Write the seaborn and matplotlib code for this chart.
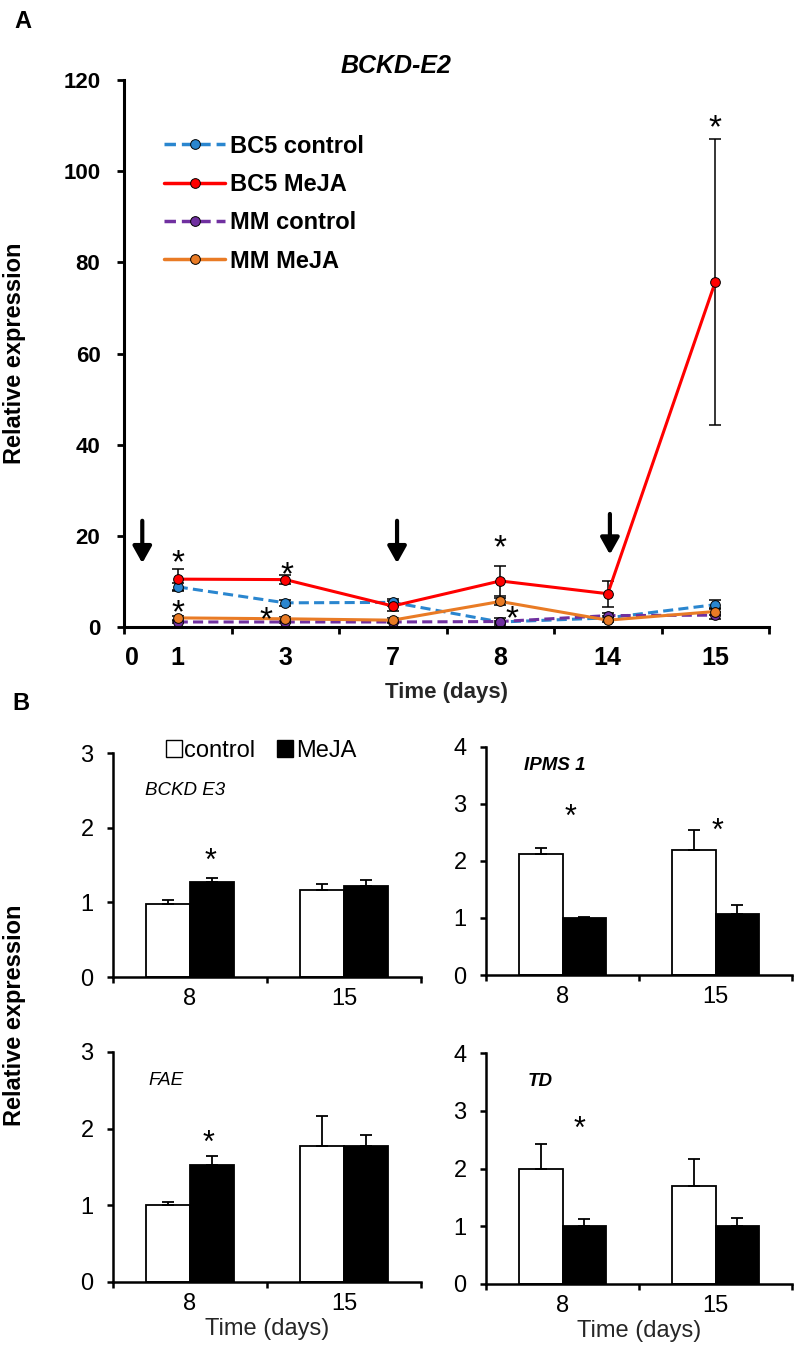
import numpy as np
import pandas as pd
import seaborn as sns
import matplotlib.pyplot as plt

# ---- panel A : BCKD-E2 time course
days_a = ['1', '3', '7', '8', '14', '15']
series_a = ['BC5 control', 'BC5 MeJA', 'MM control', 'MM MeJA']
bc5_control = [8.8, 5.3, 5.4, 1.1, 2.0, 4.9]
bc5_control_err = [0.8, 0.6, 0.8, 0.3, 0.5, 1.0]
bc5_meja = [10.5, 10.4, 4.6, 10.1, 7.3, 75.7]
bc5_meja_err = [2.3, 1.0, 1.0, 3.3, 2.9, 31.3]
mm_control = [1.1, 1.1, 1.1, 1.2, 2.5, 2.6]
mm_control_err = [0.3, 0.2, 0.2, 0.7, 0.5, 0.8]
mm_meja = [2.0, 1.8, 1.5, 5.6, 1.5, 3.4]
mm_meja_err = [0.5, 0.4, 0.4, 0.8, 0.5, 0.8]

# significance stars (x = day index) and MeJA application arrows
star_a_x = [0, 0, 1.02, 0.82, 3.0, 3.11, 5]
star_a_y = [16.3, 5.3, 13.5, 3.8, 19.4, 4.0, 111.7]
arrow_x = [-0.33, 2.04, 4.02]
arrow_top = [23.3, 23.3, 24.8]
arrow_tip = [14.0, 14.0, 15.9]

# ---- panel B : bar charts, days 8 and 15
days_b = ['8', '15']
genes = ['BCKD E3', 'IPMS 1', 'FAE', 'TD']
bckd_e3_control = [0.98, 1.17]
bckd_e3_control_err = [0.05, 0.08]
bckd_e3_meja = [1.27, 1.22]
bckd_e3_meja_err = [0.05, 0.08]
ipms1_control = [2.13, 2.2]
ipms1_control_err = [0.1, 0.35]
ipms1_meja = [1.0, 1.07]
ipms1_meja_err = [0.02, 0.15]
fae_control = [1.0, 1.77]
fae_control_err = [0.05, 0.4]
fae_meja = [1.52, 1.77]
fae_meja_err = [0.13, 0.15]
td_control = [2.0, 1.7]
td_control_err = [0.42, 0.47]
td_meja = [1.0, 1.0]
td_meja_err = [0.12, 0.15]

star_b = {
    'BCKD E3': ([0.13], [1.67]),
    'IPMS 1': ([0.05, 1.01], [2.93, 2.68]),
    'FAE': ([0.12], [1.93]),
    'TD': ([0.11], [2.84]),
}

W, H = 800, 1356

sns.set_style('ticks')
plt.rcParams['font.family'] = ['Liberation Sans', 'DejaVu Sans']
plt.rcParams['text.color'] = 'black'
plt.rcParams['xtick.color'] = 'black'
plt.rcParams['ytick.color'] = 'black'
plt.rcParams['axes.edgecolor'] = 'black'

fig = plt.figure(figsize=(W / 100, H / 100), dpi=100)


def add_axes_px(l, t, r, b):
    return fig.add_axes([l / W, 1 - b / H, (r - l) / W, (b - t) / H])


def star(axis, x, y, size):
    # nudge so the glyph itself (not its text box) sits on (x, y)
    axis.annotate('*', (x, y), xytext=(0, -0.32 * size), textcoords='offset points',
                  ha='center', va='center', fontsize=size, annotation_clip=False)


# ================= panel A
ax = add_axes_px(124, 80, 769, 627)
df_a = pd.DataFrame({
    'pos': np.tile(np.arange(len(days_a)), len(series_a)),
    'value': np.concatenate([bc5_control, bc5_meja, mm_control, mm_meja]),
    'series': np.repeat(series_a, len(days_a)),
})
errs_a = [bc5_control_err, bc5_meja_err, mm_control_err, mm_meja_err]
palette_a = {'BC5 control': '#2A86CF', 'BC5 MeJA': '#FF0000',
             'MM control': '#7030A0', 'MM MeJA': '#E97B25'}
dashes_a = {'BC5 control': (3.3, 1.7), 'BC5 MeJA': '',
            'MM control': (3.3, 1.7), 'MM MeJA': ''}
markers_a = {s: 'o' for s in series_a}

for s, e in zip(series_a, errs_a):
    sub = df_a[df_a.series == s]
    ax.errorbar(sub.pos, sub.value, yerr=e, fmt='none', ecolor='black',
                elinewidth=1.1, capsize=4, capthick=1.1, zorder=1.5)

sns.lineplot(data=df_a, x='pos', y='value', hue='series', style='series',
             palette=palette_a, dashes=dashes_a, markers=markers_a,
             markersize=7, markeredgecolor='black', markeredgewidth=0.7,
             linewidth=2.2, ax=ax)

ax.set_xlim(-0.5, 5.5)
ax.set_ylim(0, 120)
ax.set_yticks(range(0, 121, 20))
ax.set_xticks([-0.43] + list(range(len(days_a))))
ax.set_xticklabels(['0'] + days_a)
ax.set_xticks(np.arange(-0.5, 6, 1), minor=True)
ax.tick_params(axis='x', which='major', length=0, pad=14, labelsize=18)
ax.tick_params(axis='x', which='minor', length=5, width=2, direction='out')
ax.tick_params(axis='y', length=5, width=2, pad=12, labelsize=16)
for lbl in ax.get_xticklabels() + ax.get_yticklabels():
    lbl.set_fontweight('bold')
sns.despine(ax=ax)
for sp in ['left', 'bottom']:
    ax.spines[sp].set_linewidth(2.2)
ax.set_ylabel('')
ax.set_xlabel('Time (days)', fontsize=16, fontweight='bold', labelpad=8)

ax.text(2.03, 123, 'BCKD-E2', ha='center', va='center', fontsize=18,
        fontweight='bold', fontstyle='italic', clip_on=False)

handles, labels = ax.get_legend_handles_labels()
leg = ax.legend(handles, labels, loc='upper left', bbox_to_anchor=(0.062, 0.9),
                frameon=False, prop={'weight': 'bold', 'size': 17},
                handlelength=2.6, handletextpad=0.2, labelspacing=0.65,
                borderaxespad=0, borderpad=0)
for h in leg.get_lines():
    h.set_linewidth(2.5)
    h.set_markeredgecolor('black')
    h.set_markersize(7)

for x, y in zip(star_a_x, star_a_y):
    star(ax, x, y, 24)

for x, t, b in zip(arrow_x, arrow_top, arrow_tip):
    ax.annotate('', xy=(x, b), xytext=(x, t),
                arrowprops=dict(arrowstyle='-|>,head_length=0.5,head_width=0.28',
                                lw=3, color='black', mutation_scale=20,
                                shrinkA=0, shrinkB=0))

fig.text(23 / W, 1 - 22 / H, 'A', fontsize=17, fontweight='bold',
         ha='center', va='center')
fig.text(15 / W, 1 - 353 / H, 'Relative expression', rotation=90,
         ha='center', va='center', fontsize=17, fontweight='bold')

# ================= panel B
boxes_b = [(113, 753, 421, 977), (486, 747, 792, 975),
           (113, 1052, 421, 1282), (486, 1053, 792, 1284)]
ymax_b = [3, 4, 3, 4]
data_b = [
    (bckd_e3_control, bckd_e3_control_err, bckd_e3_meja, bckd_e3_meja_err),
    (ipms1_control, ipms1_control_err, ipms1_meja, ipms1_meja_err),
    (fae_control, fae_control_err, fae_meja, fae_meja_err),
    (td_control, td_control_err, td_meja, td_meja_err),
]
gene_pos = [(-0.29, 2.5), (-0.25, 3.68), (-0.27, 2.63), (-0.23, 3.5)]
gene_weight = ['normal', 'bold', 'normal', 'bold']

for i, gene in enumerate(genes):
    axb = add_axes_px(*boxes_b[i])
    ctrl, ctrl_err, meja, meja_err = data_b[i]
    df_b = pd.DataFrame({
        'day': days_b * 2,
        'value': ctrl + meja,
        'treatment': ['control'] * len(days_b) + ['MeJA'] * len(days_b),
    })
    sns.barplot(data=df_b, x='day', y='value', hue='treatment',
                palette={'control': 'white', 'MeJA': 'black'},
                edgecolor='black', linewidth=1.3, width=0.57, gap=0,
                errorbar=None, ax=axb, legend=(i == 0))
    for cont, errs in zip(axb.containers, [ctrl_err, meja_err]):
        for bar, e in zip(cont, errs):
            axb.errorbar(bar.get_x() + bar.get_width() / 2, bar.get_height(),
                         yerr=[[0], [e]], fmt='none', ecolor='black',
                         elinewidth=1.3, capsize=4, capthick=1.3)

    axb.set_xlim(-0.5, 1.5)
    axb.set_ylim(0, ymax_b[i])
    axb.set_yticks(range(0, ymax_b[i] + 1))
    axb.set_xticks(np.arange(-0.5, 2, 1), minor=True)
    axb.tick_params(axis='x', which='major', length=0, pad=8, labelsize=17)
    axb.tick_params(axis='x', which='minor', length=4, width=1.8, direction='out')
    axb.tick_params(axis='y', length=4, width=1.8, pad=10, labelsize=17)
    sns.despine(ax=axb)
    for sp in ['left', 'bottom']:
        axb.spines[sp].set_linewidth(1.8)
    axb.set_ylabel('')
    if i >= 2:
        axb.set_xlabel('Time (days)', fontsize=17, labelpad=2)
    else:
        axb.set_xlabel('')

    gx, gy = gene_pos[i]
    axb.text(gx, gy, gene, ha='left', va='center', fontsize=13.5,
             fontstyle='italic', fontweight=gene_weight[i])

    sx, sy = star_b[gene]
    for x, y in zip(sx, sy):
        star(axb, x, y, 22)

    if i == 0:
        old = axb.get_legend()
        hs = old.legend_handles
        ls = [t.get_text() for t in old.get_texts()]
        lg = axb.legend(hs, ls, loc='center', bbox_to_anchor=(0.48, 1.01),
                        ncol=2, frameon=False, fontsize=17, handlelength=0.7,
                        handleheight=0.7, handletextpad=0.1,
                        columnspacing=0.9, borderaxespad=0)
        for h in lg.legend_handles:
            h.set_edgecolor('black')
            h.set_linewidth(1.0)

fig.text(21 / W, 1 - 703 / H, 'B', fontsize=17, fontweight='bold',
         ha='center', va='center')
fig.text(15 / W, 1 - 1015 / H, 'Relative expression', rotation=90,
         ha='center', va='center', fontsize=17, fontweight='bold')

fig.savefig('out.png', dpi=100)
